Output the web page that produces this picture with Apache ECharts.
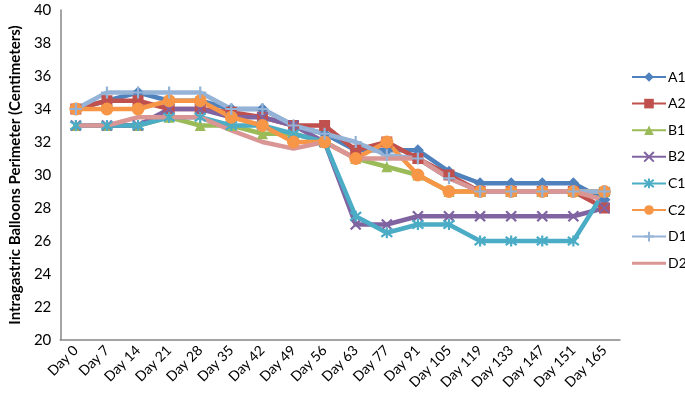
<!DOCTYPE html>
<html>
<head>
<meta charset="utf-8">
<script src="https://cdn.jsdelivr.net/npm/echarts@6/dist/echarts.min.js"></script>
<style>
  html, body { margin: 0; padding: 0; background: #fff; }
  #chart { width: 685px; height: 404px; }
</style>
</head>
<body>
<div id="chart"></div>
<script>
// categories (x axis)
const days = ["Day 0", "Day 7", "Day 14", "Day 21", "Day 28", "Day 35", "Day 42", "Day 49", "Day 56",
  "Day 63", "Day 77", "Day 91", "Day 105", "Day 119", "Day 133", "Day 147", "Day 151", "Day 165"];

// balloon perimeter per group
const a1 = [34, 34.5, 35, 34.5, 34.5, 34, 34, 33, 32.5, 31.5, 31.5, 31.5, 30.2, 29.5, 29.5, 29.5, 29.5, 28.5];
const a2 = [34, 34.5, 34.5, 34, 34, 33.8, 33.5, 33, 33, 31.5, 32, 31, 30, 29, 29, 29, 29, 28];
const b1 = [33, 33, 33, 33.5, 33, 33, 32.5, 32.5, 32, 31, 30.5, 30, 29, 29, 29, 29, 29, 29];
const b2 = [33, 33, 33, 34, 34, 33.5, 33.5, 33, 32, 27, 27, 27.5, 27.5, 27.5, 27.5, 27.5, 27.5, 28];
const c1 = [33, 33, 33, 33.5, 33.5, 33, 33, 32.5, 32, 27.5, 26.5, 27, 27, 26, 26, 26, 26, 29];
const c2 = [34, 34, 34, 34.5, 34.5, 33.5, 33, 32, 32, 31, 32, 30, 29, 29, 29, 29, 29, 29];
const d1 = [34, 35, 35, 35, 35, 34, 34, 33, 32.5, 32, 31.2, 31, 29.8, 29, 29, 29, 29, 29];
const d2 = [33, 33, 33.5, 33.5, 33.5, 32.7, 32, 31.6, 32, 31, 31, 31, 29.8, 29, 29, 29, 29, 28.5];

const yTicks = [20, 22, 24, 26, 28, 30, 32, 34, 36, 38, 40];

// Excel-like marker shapes
const xMark = "path://M0,0L10,10M10,0L0,10";
const starMark = "path://M0,0L10,10M10,0L0,10M5,-1.5L5,11.5";
const plusMark = "path://M5,0L5,10M0,5L10,5";
// plain line for the legend of D2 (tiny corner triangles keep the 34x12 box)
const plainLine = "path://M0,0L0.1,0L0,0.1Z M0,4.5L34,4.5L34,7.5L0,7.5Z M34,12L33.9,12L34,11.9Z";

function line(name, data, color, symbol, size, stroke) {
  return {
    name: name,
    type: "line",
    data: data,
    symbol: symbol,
    symbolSize: size,
    lineStyle: { width: 4.5, color: color },
    itemStyle: {
      color: color,
      borderColor: color,
      borderWidth: stroke ? 2.2 : 0,
    },
    emphasis: { disabled: true },
  };
}

const myChart = echarts.init(document.getElementById("chart"));

myChart.setOption({
  animation: false,
  textStyle: { fontFamily: "Lato, 'Liberation Sans', sans-serif" },
  grid: {
    left: 57,
    right: 65,
    top: 10,
    bottom: 64,
  },
  legend: {
    orient: "vertical",
    left: 626,
    top: 65,
    itemWidth: 34,
    itemHeight: 12,
    itemGap: 12.6,
    textStyle: { fontSize: 14, color: "#000", padding: [0, 0, 0, -3] },
    data: ["A1", "A2", "B1", "B2", "C1", "C2", "D1", { name: "D2", icon: plainLine }],
  },
  xAxis: {
    type: "category",
    data: days,
    boundaryGap: true,
    axisLine: { lineStyle: { color: "#868686", width: 1.5 } },
    axisTick: { show: false },
    axisLabel: {
      interval: 0,
      rotate: 45,
      color: "#000",
      fontSize: 14,
      margin: 8,
    },
  },
  yAxis: {
    type: "value",
    min: yTicks[0],
    max: yTicks[yTicks.length - 1],
    interval: 2,
    name: "Intragastric Balloons Perimeter (Centimeters)",
    nameLocation: "middle",
    nameGap: 34,
    nameTextStyle: { fontSize: 15, fontWeight: "bold", color: "#000" },
    axisLine: { show: true, lineStyle: { color: "#868686", width: 1.5 } },
    axisTick: { show: false },
    splitLine: { show: false },
    axisLabel: { color: "#000", fontSize: 15, margin: 9 },
  },
  series: [
    line("A1", a1, "#4F81BD", "diamond", 12, false),
    line("A2", a2, "#C0504D", "rect", 11, false),
    line("B1", b1, "#9BBB59", "triangle", 11, false),
    line("B2", b2, "#8064A2", xMark, 10, true),
    line("C1", c1, "#4BACC6", starMark, 11, true),
    line("C2", c2, "#F79646", "circle", 13, false),
    line("D1", d1, "#95B3D7", plusMark, 12, true),
    line("D2", d2, "#D99694", "none", 0, false),
  ],
});
</script>
</body>
</html>
